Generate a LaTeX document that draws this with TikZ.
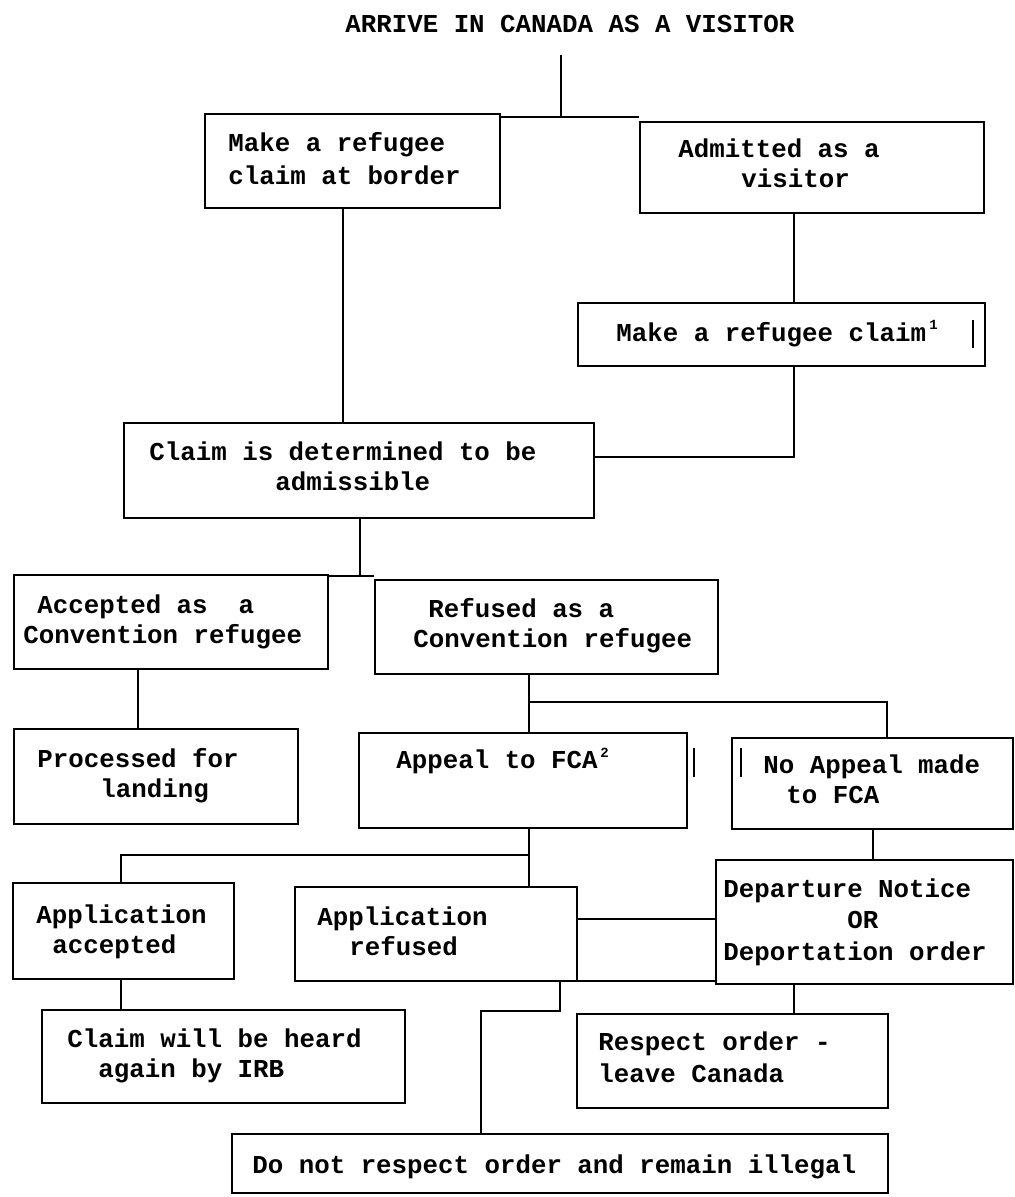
\documentclass[tikz,border=0pt]{standalone}
\usepackage{fontspec}
\setmonofont{Liberation Mono}
\newcommand\mybox[5]{\node[box, minimum width={(#4-#2)*0.5pt}, minimum height={(#5-#3)*0.5pt}] (#1) at (#2,#3) {};}
\begin{document}
\begin{tikzpicture}[x=0.5pt,y=-0.5pt,
  box/.style={draw, line width=1.1pt, rectangle, inner sep=0pt, anchor=north west},
  conn/.style={line width=0.75pt},
  art/.style={line width=0.6pt},
  txt/.style={anchor=base west, inner sep=0pt, font=\fontsize{12.9}{15}\selectfont\ttfamily\bfseries},
  sup/.style={anchor=base west, inner sep=0pt, font=\fontsize{7}{8}\selectfont\ttfamily\bfseries}]
\useasboundingbox (0,0) rectangle (1014,1197);

% boxes
\mybox{A}{204}{113}{499}{207}
\mybox{B}{639}{121}{983}{212}
\mybox{R}{577}{302}{984}{365}
\mybox{C}{123}{422}{593}{517}
\mybox{D}{13}{574}{327}{668}
\mybox{E}{374}{579}{717}{673}
\mybox{F}{13}{728}{297}{823}
\mybox{G}{358}{732}{686}{827}
\mybox{H}{731}{737}{1012}{828}
\mybox{I}{12}{882}{233}{978}
\mybox{J}{294}{886}{576}{980}
\mybox{K}{715}{859}{1012}{983}
\mybox{L}{41}{1009}{404}{1102}
\mybox{M}{576}{1013}{887}{1107}
\mybox{N}{231}{1133}{887}{1192}

% texts
\node[txt] (T) at (345,33) {ARRIVE IN CANADA AS A VISITOR};
\node[txt] (a1) at (228,152) {Make a refugee};
\node[txt] (a2) at (228,185) {claim at border};
\node[txt] (b1) at (678,158) {Admitted as a};
\node[txt] (b2) at (741,188) {visitor};
\node[txt] (r1) at (616,342) {Make a refugee claim};
\node[sup] (r2) at (929,330) {1};
\node[txt] (c1) at (149,460) {Claim is determined to be};
\node[txt] (c2) at (275,490) {admissible};
\node[txt] (d1) at (37,613) {Accepted as\ \ a};
\node[txt] (d2) at (23,643) {Convention refugee};
\node[txt] (e1) at (428,617) {Refused as a};
\node[txt] (e2) at (413,647) {Convention refugee};
\node[txt] (f1) at (37,767) {Processed for};
\node[txt] (f2) at (100,797) {landing};
\node[txt] (g1) at (396,768) {Appeal to FCA};
\node[sup] (g2) at (600,757) {2};
\node[txt] (h1) at (763,773) {No Appeal made};
\node[txt] (h2) at (786,803) {to FCA};
\node[txt] (i1) at (36,923) {Application};
\node[txt] (i2) at (52,953) {accepted};
\node[txt] (j1) at (317,925) {Application};
\node[txt] (j2) at (349,955) {refused};
\node[txt] (k1) at (723,897) {Departure Notice};
\node[txt] (k2) at (847,928) {OR};
\node[txt] (k3) at (723,960) {Deportation order};
\node[txt] (l1) at (67,1047) {Claim will be heard};
\node[txt] (l2) at (98,1077) {again by IRB};
\node[txt] (m1) at (598,1050) {Respect order -};
\node[txt] (m2) at (598,1082) {leave Canada};
\node[txt] (n1) at (252,1173) {Do not respect order and remain illegal};

% helper coordinates
\coordinate (top) at (561,55);
\coordinate (jt) at (561,117);
\coordinate (x343) at (343,0);
\coordinate (x794) at (794,0);
\coordinate (y457) at (0,457);
\coordinate (x360) at (360,0);
\coordinate (y576) at (0,576);
\coordinate (x138) at (138,0);
\coordinate (x529) at (529,0);
\coordinate (y702) at (0,702);
\coordinate (x887) at (887,0);
\coordinate (y855) at (0,855);
\coordinate (x121) at (121,0);
\coordinate (x873) at (873,0);
\coordinate (y919) at (0,919);
\coordinate (y981) at (0,981);
\coordinate (x560) at (560,0);
\coordinate (y1011) at (0,1011);
\coordinate (x481) at (481,0);

% connectors
\draw[conn] (top) -- (jt);
\draw[conn] (A.north east |- jt) -- (B.north west |- jt);
\draw[conn] (A.south -| x343) -- (C.north -| x343);
\draw[conn] (B.south -| x794) -- (R.north -| x794);
\draw[conn] (R.south -| x794) |- (C.east |- y457);
\draw[conn] (C.south -| x360) -- (x360 |- y576);
\draw[conn] (D.north east |- y576) -- (E.north west |- y576);
\draw[conn] (D.south -| x138) -- (F.north -| x138);
\draw[conn] (E.south -| x529) -- (G.north -| x529);
\draw[conn] (x529 |- y702) -| (H.north -| x887);
\draw[conn] (G.south -| x529) -- (J.north -| x529);
\draw[conn] (x529 |- y855) -| (I.north -| x121);
\draw[conn] (H.south -| x873) -- (K.north -| x873);
\draw[conn] (J.east |- y919) -- (K.west |- y919);
\draw[conn] (J.south east |- y981) -- (K.south west |- y981);
\draw[conn] (x560 |- y981) |- (x481 |- y1011) -- (N.north -| x481);
\draw[conn] (K.south -| x794) -- (M.north -| x794);
\draw[conn] (I.south -| x121) -- (L.north -| x121);

% scan marks
\draw[art] (973,320) -- (973,348);
\draw[art] (694,748) -- (694,777);
\draw[art] (741,748) -- (741,777);
\end{tikzpicture}
\end{document}
